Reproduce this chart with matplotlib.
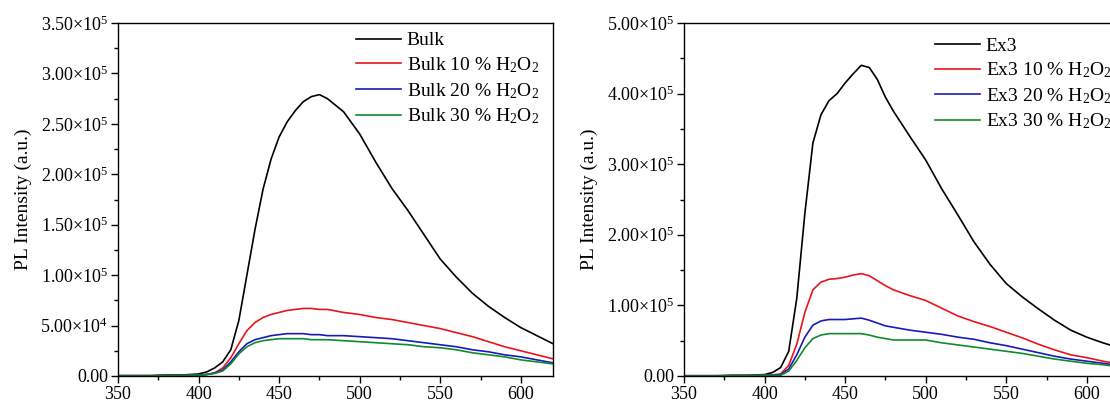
import matplotlib
matplotlib.use("Agg")
import matplotlib.pyplot as plt
from matplotlib.ticker import MultipleLocator, FuncFormatter

plt.rcParams["font.family"] = ["Liberation Serif", "DejaVu Serif"]
plt.rcParams["mathtext.fontset"] = "custom"
plt.rcParams["mathtext.rm"] = "Liberation Serif"
plt.rcParams["mathtext.it"] = "Liberation Serif:italic"

# wavelength (nm), shared by all curves
wavelength = [350, 360, 370, 380, 390, 400, 405, 410, 415, 420, 425, 430, 435, 440,
              445, 450, 455, 460, 465, 470, 475, 480, 490, 500, 510, 520, 530, 540,
              550, 560, 570, 580, 590, 600, 610, 620]

# PL intensity, x1000 a.u. -- Bulk sample
bulk_0 = [0.5, 0.5, 0.5, 1, 1, 2, 4, 8, 14, 26, 55, 100, 145, 185, 215, 237, 252, 263,
          272, 277, 279, 275, 262, 240, 212, 186, 164, 140, 116, 98, 82, 69, 58, 48, 40, 32]
bulk_10 = [0, 0, 0, 0.5, 0.5, 1, 1.5, 3, 8, 18, 32, 45, 53, 58, 61, 63, 65, 66,
           67, 67, 66, 66, 63, 61, 58, 56, 53, 50, 47, 43, 39, 34, 29, 25, 21, 17]
bulk_20 = [0, 0, 0, 0.5, 0.5, 1, 1.5, 3, 6, 14, 24, 32, 36, 38, 40, 41, 42, 42,
           42, 41, 41, 40, 40, 39, 38, 37, 35, 33, 31, 29, 26, 24, 21, 19, 16, 13]
bulk_30 = [0, 0, 0, 0.5, 0.5, 1, 1.5, 2.5, 5, 12, 22, 29, 33, 35, 36, 37, 37, 37,
           37, 36, 36, 36, 35, 34, 33, 32, 31, 29, 28, 26, 23, 21, 19, 16, 14, 12]

# PL intensity, x1000 a.u. -- Ex3 sample
ex3_0 = [0.5, 0.5, 0.5, 1, 1, 2, 5, 12, 35, 110, 230, 330, 370, 390, 400, 415, 428, 440,
         437, 420, 395, 375, 340, 306, 265, 228, 190, 158, 131, 112, 95, 79, 65, 55, 47, 40]
ex3_10 = [0, 0, 0, 0.5, 0.5, 1, 1.5, 3, 15, 45, 90, 122, 133, 137, 138, 140, 143, 145,
          142, 135, 128, 122, 114, 107, 96, 85, 77, 70, 62, 54, 45, 37, 30, 26, 21, 17]
ex3_20 = [0, 0, 0, 0.5, 0.5, 1, 1, 2, 10, 30, 55, 72, 78, 80, 80, 80, 81, 82,
          79, 75, 71, 69, 65, 62, 59, 55, 52, 47, 43, 38, 33, 28, 24, 21, 18, 15]
ex3_30 = [0, 0, 0, 0.5, 0.5, 1, 1, 1, 7, 22, 40, 53, 58, 60, 60, 60, 60, 60,
          58, 55, 53, 51, 51, 51, 47, 44, 41, 38, 35, 32, 28, 24, 21, 18, 16, 13]

colors = ["black", "#e8141c", "#1a1ab8", "#118a2e"]
suffix = ["", " 10 % H$_2$O$_2$", " 20 % H$_2$O$_2$", " 30 % H$_2$O$_2$"]


def sci_label(v, pos):
    if v == 0:
        return "0.00"
    exp = len(str(int(v))) - 1
    mant = v / 10 ** exp
    return r"%.2f$\times$10$^{%d}$" % (mant, exp)


def style_axis(ax, ymax, ymajor):
    ax.set_xlim(350, 620)
    ax.set_ylim(0, ymax)
    ax.xaxis.set_major_locator(MultipleLocator(50))
    ax.xaxis.set_minor_locator(MultipleLocator(25))
    ax.yaxis.set_major_locator(MultipleLocator(ymajor))
    ax.yaxis.set_minor_locator(MultipleLocator(ymajor / 2))
    ax.yaxis.set_major_formatter(FuncFormatter(sci_label))
    ax.tick_params(which="both", direction="out", top=False, right=False,
                   labelsize=13, width=1.0, pad=2)
    ax.tick_params(which="major", length=5)
    ax.tick_params(which="minor", length=3)
    for s in ax.spines.values():
        s.set_linewidth(1.0)
    ax.set_ylabel("PL Intensity (a.u.)", fontsize=14, labelpad=6)


fig = plt.figure(figsize=(11.10, 4.03), dpi=100)
ax1 = fig.add_axes([118 / 1110, 27 / 403, 435 / 1110, 353 / 403])
ax2 = fig.add_axes([684 / 1110, 27 / 403, 435 / 1110, 353 / 403])

for series, c, s in zip([bulk_0, bulk_10, bulk_20, bulk_30], colors, suffix):
    ax1.plot(wavelength, [v * 1000 for v in series], color=c, lw=1.2, label="Bulk" + s)
for series, c, s in zip([ex3_0, ex3_10, ex3_20, ex3_30], colors, suffix):
    ax2.plot(wavelength, [v * 1000 for v in series], color=c, lw=1.2, label="Ex3" + s)

style_axis(ax1, 3.5e5, 5e4)
style_axis(ax2, 5e5, 1e5)

leg_kw = dict(frameon=False, fontsize=14, handlelength=2.3, handletextpad=0.3,
              labelspacing=0.3, borderaxespad=0.0)
ax1.legend(loc="upper right", bbox_to_anchor=(0.985, 0.997), **leg_kw)
ax2.legend(loc="upper right", bbox_to_anchor=(1.0, 0.982), **leg_kw)

fig.savefig("out.png", dpi=100)
